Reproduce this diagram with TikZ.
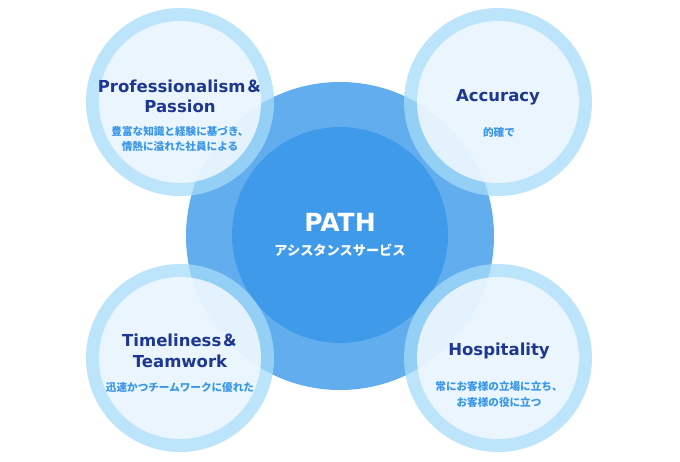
\documentclass[tikz,border=0pt]{standalone}
\usepackage{fontspec}
\setmainfont{DejaVu Sans}
\newfontfamily\jpfont{Noto Sans CJK JP}

\definecolor{pathouter}{RGB}{98,173,238}
\definecolor{pathinner}{RGB}{63,155,234}
\definecolor{ringblue}{RGB}{165,219,250}
\definecolor{coreblue}{RGB}{242,249,255}
\definecolor{titlenavy}{RGB}{30,55,145}
\definecolor{subblue}{RGB}{58,150,232}

\tikzset{every picture/.style={line width=0.75pt}}
\tikzset{
  bigdisc/.style={circle,draw=none,fill=pathouter,minimum size=308pt,inner sep=0pt},
  middisc/.style={circle,draw=none,fill=pathinner,minimum size=216pt,inner sep=0pt},
  valuering/.style={circle,draw=none,fill=ringblue,fill opacity=0.75,minimum size=188pt,inner sep=0pt},
  valuecore/.style={circle,draw=none,fill=coreblue,fill opacity=0.85,minimum size=162pt,inner sep=0pt},
  valuetitle/.style={inner sep=0pt,align=center,text=titlenavy,font=\fontsize{16.5}{20.5}\selectfont\bfseries},
  valuesub/.style={inner sep=0pt,align=center,text=subblue,font=\jpfont\bfseries\fontsize{10.6}{15.6}\selectfont}
}

\begin{document}
\begin{tikzpicture}[x=1pt,y=1pt,yscale=-1,xscale=1]
\useasboundingbox (0,0) rectangle (680,461);

%Shape: Circle (PATH, outer)
\node[bigdisc] (pathout) at (340,236) {};
%Shape: Circle (PATH, inner)
\node[middisc] (pathin) at (340,235) {};

%Shape: Circle (top left)
\node[valuering] (profring) at (180,102) {};
\node[valuecore] (profcore) at (profring.center) {};
%Shape: Circle (top right)
\node[valuering] (accring) at (498,102) {};
\node[valuecore] (acccore) at (accring.center) {};
%Shape: Circle (bottom left)
\node[valuering] (timering) at (180,358) {};
\node[valuecore] (timecore) at (timering.center) {};
%Shape: Circle (bottom right)
\node[valuering] (hospring) at (498,358) {};
\node[valuecore] (hospcore) at (hospring.center) {};

% Text Node
\node[valuetitle,text=white,font=\fontsize{25}{30}\selectfont\bfseries] (pathtitle) at (340,222.5) {PATH};
% Text Node
\node[valuesub,text=white,font=\jpfont\bfseries\fontsize{13.2}{16}\selectfont] (pathsub) at (340,250) {アシスタンスサービス};

% Text Node
\node[valuetitle] (proftitle) at (180,96.5) {Professionalism{\jpfont\bfseries ＆}\\Passion};
% Text Node
\node[valuesub] (profsub) at (180,139) {豊富な知識と経験に基づき、\\情熱に溢れた社員による};

% Text Node
\node[valuetitle] (acctitle) at (498,97.6) {Accuracy};
% Text Node
\node[valuesub] (accsub) at (499,132.7) {的確で};

% Text Node
\node[valuetitle] (timetitle) at (180,351) {Timeliness{\jpfont\bfseries ＆}\\Teamwork};
% Text Node
\node[valuesub] (timesub) at (180,387.3) {迅速かつチームワークに優れた};

% Text Node
\node[valuetitle] (hosptitle) at (499,350.7) {Hospitality};
% Text Node
\node[valuesub] (hospsub) at (499,394.5) {常にお客様の立場に立ち、\\お客様の役に立つ};

\end{tikzpicture}
\end{document}
